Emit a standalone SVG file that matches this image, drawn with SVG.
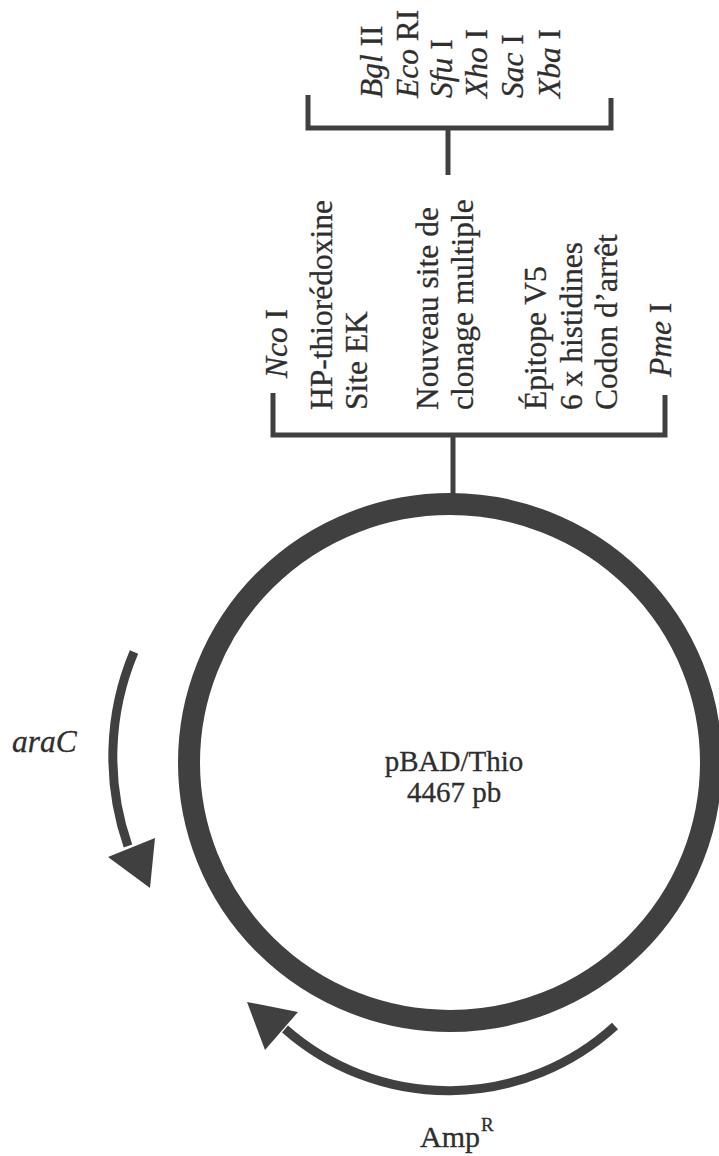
<svg xmlns="http://www.w3.org/2000/svg" width="719" height="1156" viewBox="0 0 719 1156">
<style>
.t{font-family:"Liberation Serif","Times New Roman",serif;font-size:31.5px;fill:#2e2e2e;stroke:#2e2e2e;stroke-width:0.3}
.i{font-style:italic}
.ln{fill:none;stroke:#404040;stroke-width:5}
.arc{fill:none;stroke:#404040;stroke-width:9}
.head{fill:#404040}
</style>
<rect width="719" height="1156" fill="#fff"/>
<g id="connectors">
<path class="ln" d="M308 95 V128 H611 V98"/>
<path class="ln" d="M448 128 V175"/>
<path class="ln" d="M273 393 V435 H665 V395"/>
<path class="ln" d="M453 435 V495"/>
</g>
<g id="enzymes">
<text class="t" transform="translate(382,98) rotate(-90)"><tspan class="i">Bgl</tspan> II</text>
<text class="t" transform="translate(418,98) rotate(-90)"><tspan class="i">Eco</tspan> RI</text>
<text class="t" transform="translate(452,98) rotate(-90)"><tspan class="i">Sfu</tspan> I</text>
<text class="t" transform="translate(487,98) rotate(-90)"><tspan class="i">Xho</tspan> I</text>
<text class="t" transform="translate(523,98) rotate(-90)"><tspan class="i">Sac</tspan> I</text>
<text class="t" transform="translate(560,98) rotate(-90)"><tspan class="i">Xba</tspan> I</text>
</g>
<g id="features">
<text class="t" transform="translate(287,378) rotate(-90)"><tspan class="i">Nco</tspan> I</text>
<text class="t" transform="translate(332,410) rotate(-90)">HP-thiorédoxine</text>
<text class="t" transform="translate(367,410) rotate(-90)">Site EK</text>
<text class="t" transform="translate(438,410) rotate(-90)">Nouveau site de</text>
<text class="t" transform="translate(473,410) rotate(-90)">clonage multiple</text>
<text class="t" transform="translate(546,410) rotate(-90)">Épitope V5</text>
<text class="t" transform="translate(581.5,410) rotate(-90)">6 x histidines</text>
<text class="t" transform="translate(617,410) rotate(-90)">Codon d’arrêt</text>
<text class="t" transform="translate(671,377) rotate(-90)"><tspan class="i">Pme</tspan> I</text>
</g>
<g id="plasmid">
<ellipse cx="450" cy="762.5" rx="261" ry="258.5" fill="none" stroke="#404040" stroke-width="22"/>
<text class="t" x="454" y="771" text-anchor="middle" style="font-size:29px">pBAD/Thio</text>
<text class="t" x="454" y="802" text-anchor="middle" style="font-size:29px">4467 pb</text>
</g>
<g id="araC">
<path class="arc" d="M134 652 A270 270 0 0 0 128 846"/>
<polygon class="head" points="150,888 108,857 155,838"/>
<text class="t i" x="12" y="752">araC</text>
</g>
<g id="ampR">
<path class="arc" d="M615 1026 A247 247 0 0 1 285 1029"/>
<polygon class="head" points="247,1002 265,1050 298,1012"/>
<text class="t" x="420" y="1147" style="font-size:30px">Amp</text>
<text class="t" x="481" y="1131" style="font-size:19px">R</text>
</g>
</svg>
